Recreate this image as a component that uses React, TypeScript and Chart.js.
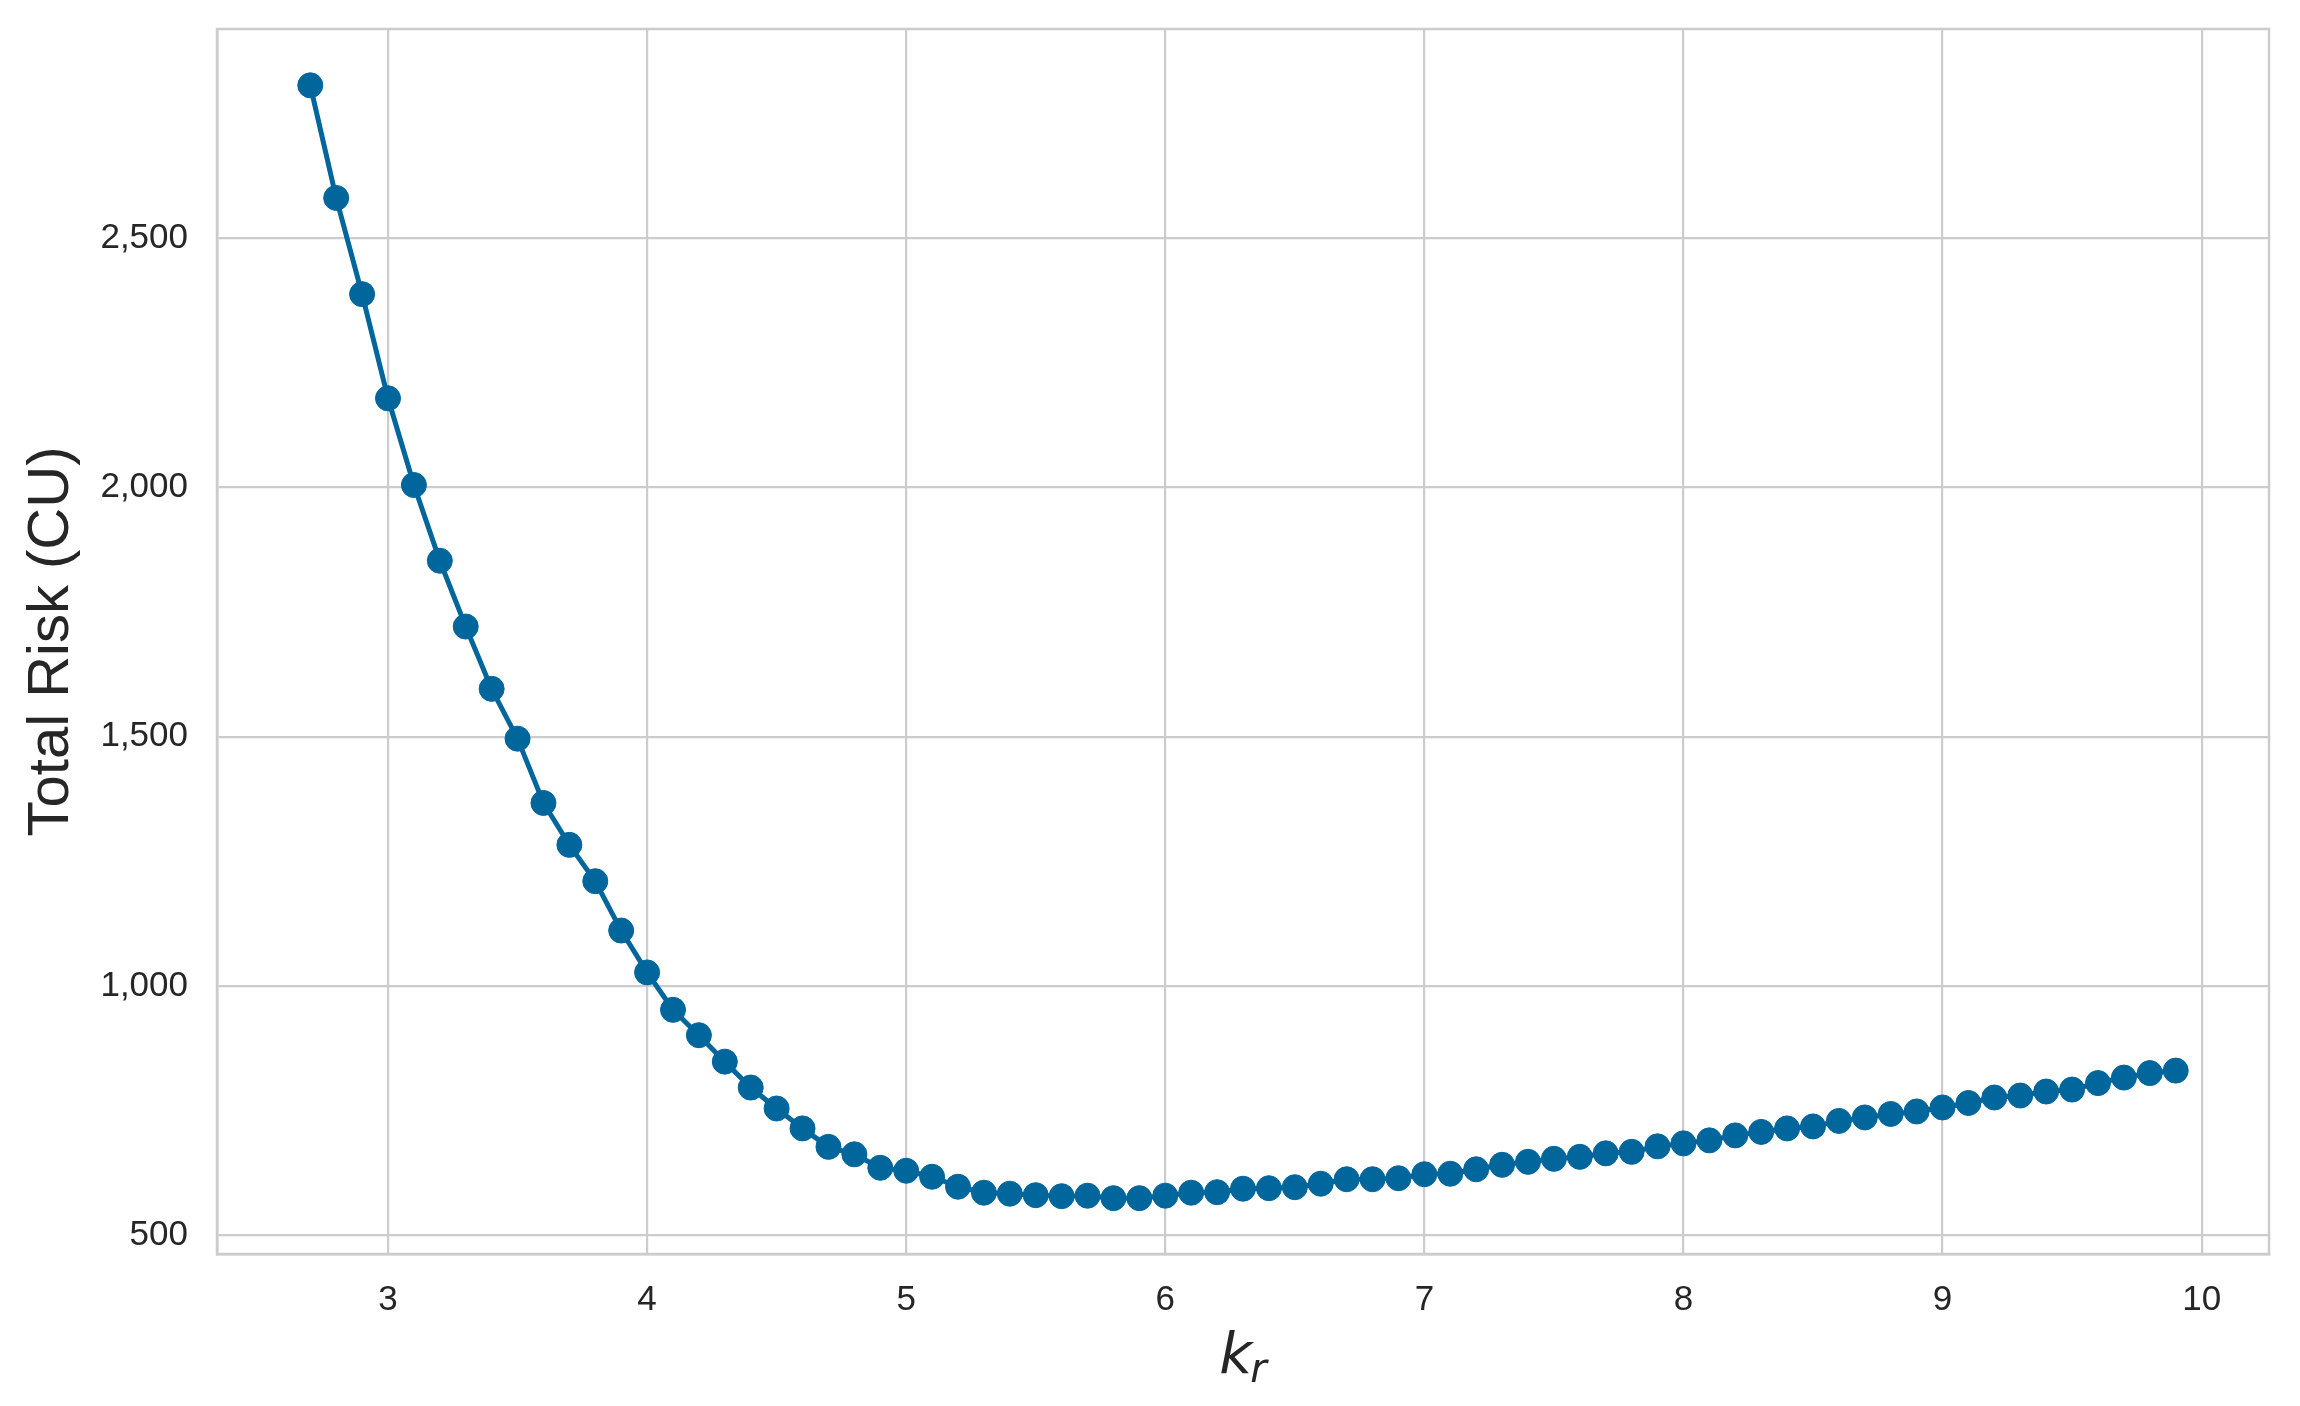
import React, { useEffect, useRef } from "react";
import { Chart, registerables } from "chart.js";

Chart.register(...registerables);

// k_r values (x)
const kr: number[] = [
  2.7, 2.8, 2.9, 3.0, 3.1, 3.2, 3.3, 3.4, 3.5, 3.6, 3.7, 3.8, 3.9,
  4.0, 4.1, 4.2, 4.3, 4.4, 4.5, 4.6, 4.7, 4.8, 4.9,
  5.0, 5.1, 5.2, 5.3, 5.4, 5.5, 5.6, 5.7, 5.8, 5.9,
  6.0, 6.1, 6.2, 6.3, 6.4, 6.5, 6.6, 6.7, 6.8, 6.9,
  7.0, 7.1, 7.2, 7.3, 7.4, 7.5, 7.6, 7.7, 7.8, 7.9,
  8.0, 8.1, 8.2, 8.3, 8.4, 8.5, 8.6, 8.7, 8.8, 8.9,
  9.0, 9.1, 9.2, 9.3, 9.4, 9.5, 9.6, 9.7, 9.8, 9.9,
];

// Total risk (CU)
const totalRisk: number[] = [
  2807, 2581, 2388, 2179, 2005, 1853, 1721, 1596, 1496, 1367, 1283, 1210, 1111,
  1027, 952, 901, 848, 796, 754, 714, 677, 662, 635,
  629, 617, 597, 585, 583, 580, 578, 579, 574, 574,
  579, 585, 586, 593, 594, 596, 603, 612, 612, 614,
  622, 623, 632, 641, 647, 653, 657, 664, 667, 678,
  684, 690, 700, 707, 714, 718, 729, 736, 743, 748,
  756, 765, 776, 780, 788, 792, 805, 816, 825, 830,
];

const xTicks: number[] = [3, 4, 5, 6, 7, 8, 9, 10];
const yTicks: number[] = [500, 1000, 1500, 2000, 2500];

const yTitle = "Total Risk (CU)";
const xTitleMain = "k";
const xTitleSub = "r";

const LINE_COLOR = "#00669c";
const GRID_COLOR = "#cccccc";
const TEXT_COLOR = "#262626";
const FONT = "'Liberation Sans', Arial, sans-serif";

export default function App() {
  const ref = useRef<HTMLCanvasElement | null>(null);

  useEffect(() => {
    document.body.style.margin = "0";
    const canvas = ref.current;
    if (!canvas) return;

    const framePlugin = {
      id: "frame",
      beforeDraw(chart: any) {
        const ctx = chart.ctx;
        ctx.save();
        ctx.fillStyle = "#ffffff";
        ctx.fillRect(0, 0, chart.width, chart.height);
        ctx.restore();
      },
      beforeDatasetsDraw(chart: any) {
        const { left, right, top, bottom } = chart.chartArea;
        const ctx = chart.ctx;
        ctx.save();
        ctx.strokeStyle = GRID_COLOR;
        ctx.lineWidth = 2.5;
        ctx.strokeRect(left, top, right - left, bottom - top);
        ctx.restore();
      },
      afterDraw(chart: any) {
        const { left, right } = chart.chartArea;
        const ctx = chart.ctx;
        ctx.save();
        ctx.fillStyle = TEXT_COLOR;
        ctx.textBaseline = "alphabetic";
        ctx.textAlign = "left";
        const mainFont = "italic 57px 'DejaVu Sans'";
        const subFont = "italic 40px 'DejaVu Sans'";
        ctx.font = mainFont;
        const wMain = ctx.measureText(xTitleMain).width;
        ctx.font = subFont;
        const wSub = ctx.measureText(xTitleSub).width;
        const total = wMain + wSub - 2;
        const cx = (left + right) / 2;
        const x0 = cx - total / 2;
        ctx.font = mainFont;
        ctx.fillText(xTitleMain, x0, 1373);
        ctx.font = subFont;
        ctx.fillText(xTitleSub, x0 + wMain - 2, 1382);
        ctx.restore();
      },
    };

    const chart = new Chart(canvas, {
      type: "line",
      data: {
        datasets: [
          {
            data: kr.map((x, i) => ({ x, y: totalRisk[i] })),
            borderColor: LINE_COLOR,
            backgroundColor: LINE_COLOR,
            borderWidth: 5,
            pointRadius: 12.5,
            pointBorderWidth: 1,
            pointBackgroundColor: LINE_COLOR,
            pointBorderColor: LINE_COLOR,
            tension: 0,
          },
        ],
      },
      options: {
        responsive: false,
        animation: false,
        devicePixelRatio: 1,
        layout: { padding: { top: 29, right: 31, left: 0, bottom: 0 } },
        plugins: {
          legend: { display: false },
          tooltip: { enabled: false },
        },
        scales: {
          x: {
            type: "linear",
            min: 2.34,
            max: 10.26,
            afterBuildTicks: (scale: any) => {
              scale.ticks = xTicks.map((v) => ({ value: v }));
            },
            afterFit: (scale: any) => {
              scale.height = 152;
              scale.paddingLeft = 0;
              scale.paddingRight = 0;
              scale.paddingTop = 0;
              scale.paddingBottom = 0;
            },
            grid: { color: GRID_COLOR, lineWidth: 2.2, drawTicks: false },
            border: { display: true, color: GRID_COLOR, width: 2.5 },
            ticks: {
              padding: 25,
              color: TEXT_COLOR,
              font: { family: FONT, size: 35 },
              callback: (v: any) => String(v),
              maxRotation: 0,
            },
            title: { display: false },
          },
          y: {
            type: "linear",
            min: 462,
            max: 2920,
            afterBuildTicks: (scale: any) => {
              scale.ticks = yTicks.map((v) => ({ value: v }));
            },
            afterFit: (scale: any) => {
              scale.width = 217;
              scale.paddingLeft = 0;
              scale.paddingRight = 0;
              scale.paddingTop = 0;
              scale.paddingBottom = 0;
            },
            grid: { color: GRID_COLOR, lineWidth: 2.2, drawTicks: false },
            border: { display: true, color: GRID_COLOR, width: 2.5 },
            ticks: {
              padding: 29,
              color: TEXT_COLOR,
              font: { family: FONT, size: 35 },
              callback: (v: any) => Number(v).toLocaleString("en-US"),
            },
            title: {
              display: true,
              text: yTitle,
              color: TEXT_COLOR,
              font: { family: FONT, size: 58 },
              padding: { top: 17, bottom: 0 },
            },
          },
        },
      },
      plugins: [framePlugin],
    } as any);

    return () => chart.destroy();
  }, []);

  return (
    <div>
      <canvas ref={ref} width={2300} height={1406} style={{ display: "block", width: 2300, height: 1406 }} />
    </div>
  );
}
